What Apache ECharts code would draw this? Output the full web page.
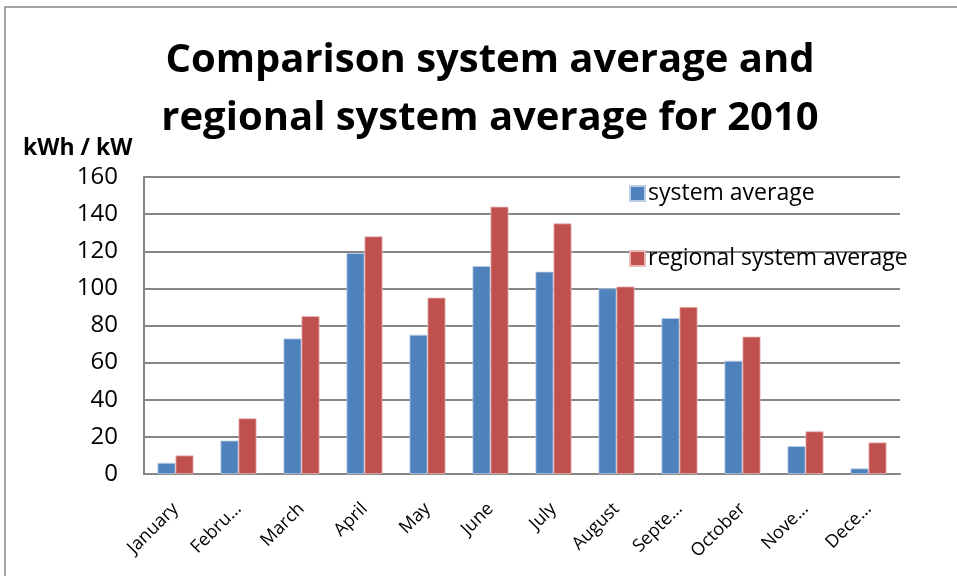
<!DOCTYPE html>
<html><head><meta charset="utf-8">
<script src="https://cdn.jsdelivr.net/npm/echarts@6/dist/echarts.min.js"></script>
<style>html,body{margin:0;padding:0;background:#fff}#c{width:957px;height:576px}</style>
</head><body><div id="c"></div>
<script>
const months = ['January','Febru…','March','April','May','June','July','August','Septe…','October','Nove…','Dece…'];
const systemAverage = [6, 18, 73, 119, 75, 112, 109, 100, 84, 61, 15, 3];
const regionalAverage = [10, 30, 85, 128, 95, 144, 135, 101, 90, 74, 23, 17];
const yTicks = [0, 20, 40, 60, 80, 100, 120, 140, 160];
const seriesNames = ['system average', 'regional system average'];

const FONT = 'Open Sans';
const chart = echarts.init(document.getElementById('c'));
chart.setOption({
  animation: false,
  backgroundColor: '#fff',
  textStyle: {fontFamily: FONT},
  title: {
    text: 'Comparison system average and\nregional system average for 2010',
    left: 485, top: 27, textAlign: 'center',
    textStyle: {fontFamily: FONT, fontSize: 40, fontWeight: 'bold', color: '#000', lineHeight: 58}
  },
  legend: {
    orient: 'vertical', left: 624, top: 177,
    itemWidth: 15, itemHeight: 15, itemGap: 42,
    icon: 'rect',
    textStyle: {fontFamily: FONT, fontSize: 23, color: '#000', padding: [0,0,0,-2]},
    data: seriesNames
  },
  grid: {left: 144, right: 57, top: 177, bottom: 102},
  xAxis: {
    type: 'category', data: months,
    axisLine: {lineStyle: {color: '#868686', width: 2}},
    axisTick: {show: false},
    axisLabel: {rotate: 45, fontSize: 18, color: '#000', margin: 32, interval: 0, fontFamily: FONT}
  },
  yAxis: {
    type: 'value', min: yTicks[0], max: yTicks[yTicks.length-1], interval: 20,
    axisLine: {show: true, lineStyle: {color: '#868686', width: 2}},
    axisTick: {show: false},
    splitLine: {lineStyle: {color: '#868686', width: 2}},
    axisLabel: {fontSize: 24, color: '#000', margin: 26, fontFamily: FONT}
  },
  graphic: [
    {type: 'rect', shape: {x: 5, y: 7, width: 1000, height: 1000}, style: {fill: 'none', stroke: '#878787', lineWidth: 1.5}, z: 100},
    {type: 'text', left: 23, top: 137, style: {text: 'kWh / kW', font: 'bold 23px "Open Sans"', fill: '#000'}}
  ],
  series: [
    {name: seriesNames[0], type: 'bar', data: systemAverage, barWidth: 18, barGap: '0%',
     itemStyle: {color: '#4F81BD', borderColor: '#B9CDE5', borderWidth: 0.8}},
    {name: seriesNames[1], type: 'bar', data: regionalAverage, barWidth: 18,
     itemStyle: {color: '#C0504D', borderColor: '#E6B9B8', borderWidth: 0.8}}
  ]
});
</script></body></html>
